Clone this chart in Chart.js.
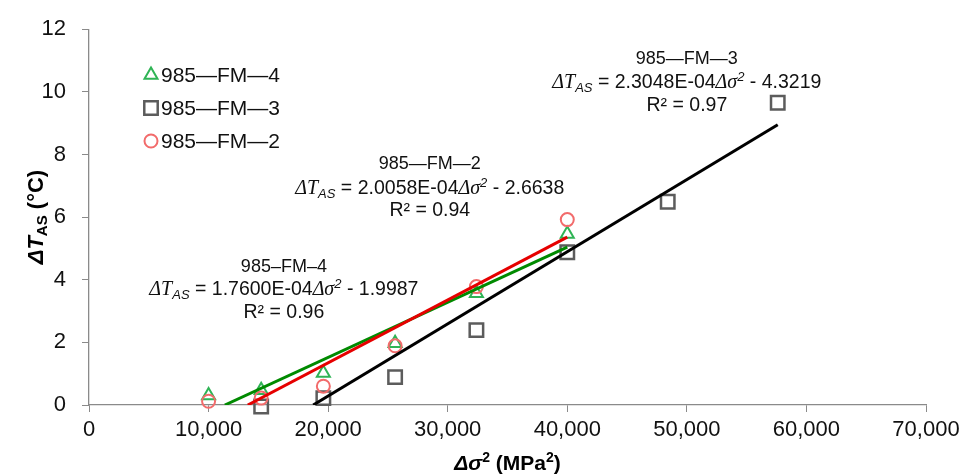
<!DOCTYPE html>
<html><head><meta charset="utf-8">
<style>html,body{margin:0;padding:0;background:#fff}#wrap{width:967px;height:474px;position:relative}</style>
<script src="https://cdn.jsdelivr.net/npm/chart.js@4.4.1/dist/chart.umd.min.js"></script>
</head><body><div id="wrap"><canvas id="c" width="967" height="474"></canvas></div>
<script>
// ---- data ----
const stressSq = [10000, 14400, 19600, 25600, 32400, 40000];
const fm4Values = [0.30, 0.47, 1.02, 1.97, 3.57, 5.46];
const fm2Values = [0.12, 0.22, 0.60, 1.89, 3.78, 5.92];
const fm3Stress = [14400, 19600, 25600, 32400, 40000, 48400, 57600];
const fm3Values = [-0.05, 0.22, 0.89, 2.39, 4.88, 6.49, 9.65];
const fm4TrendX = [11360, 40000];
const fm4TrendY = [0, 5.04];
const fm2TrendX = [13280, 40000];
const fm2TrendY = [0, 5.36];
const fm3TrendX = [18750, 57600];
const fm3TrendY = [0, 8.95];
const seriesNames = ['985\u2014FM\u20144', '985\u2014FM\u20143', '985\u2014FM\u20142'];
const xTickValues = [0, 10000, 20000, 30000, 40000, 50000, 60000, 70000];
const xTickLabels = ['0', '10,000', '20,000', '30,000', '40,000', '50,000', '60,000', '70,000'];
const yTickLabels = ['0', '2', '4', '6', '8', '10', '12'];
const fitTitles = ['985\u2013FM\u20134', '985\u2014FM\u20142', '985\u2014FM\u20143'];
const fitSlopes = ['1.7600E-04', '2.0058E-04', '2.3048E-04'];
const fitIntercepts = ['1.9987', '2.6638', '4.3219'];
const fitR2 = ['0.96', '0.94', '0.97'];

const pts = (xs, ys) => xs.map((x, i) => ({x: x, y: ys[i]}));

const SANS = '"Liberation Sans", Arial, sans-serif';
const SERIF = '"Liberation Serif", "Times New Roman", serif';
const GREEN_M = '#2fb455', RED_M = '#f26b6b', GRAY_M = '#5c5c5c';

// annotation anchors (data coordinates of centre of each block)
const annotAnchors = [
  {x: 16300, y: [4.47, 3.72, 2.99]},
  {x: 28500, y: [7.75, 6.96, 6.24]},
  {x: 50000, y: [11.09, 10.33, 9.6]}
];

function drawRich(ctx, segs, cx, base) {
  let total = 0;
  const ws = segs.map(s => { ctx.font = s[1]; const w = ctx.measureText(s[0]).width; total += w; return w; });
  let x = cx - total / 2;
  ctx.textAlign = 'left'; ctx.textBaseline = 'alphabetic';
  segs.forEach((s, i) => { ctx.font = s[1]; ctx.fillText(s[0], x, base + (s[2] || 0)); x += ws[i]; });
}

function marker(ctx, style, x, y, r, color, lw) {
  ctx.save();
  ctx.strokeStyle = color; ctx.lineWidth = lw; ctx.fillStyle = 'rgba(255,255,255,0)';
  if (Chart.helpers && Chart.helpers.drawPoint) {
    Chart.helpers.drawPoint(ctx, {pointStyle: style, rotation: 0, radius: r, borderWidth: lw}, x, y);
  }
  ctx.restore();
}

const overlay = {
  id: 'overlay',
  afterDraw(chart) {
    const ctx = chart.ctx, xs = chart.scales.x, ys = chart.scales.y;
    ctx.save();
    ctx.fillStyle = '#111';
    // fit annotations
    annotAnchors.forEach((a, i) => {
      const cx = xs.getPixelForValue(a.x);
      const b = a.y.map(v => ys.getPixelForValue(v) + 6.5);
      drawRich(ctx, [[fitTitles[i], '18px ' + SANS]], cx, b[0]);
      drawRich(ctx, [
        ['\u0394T', 'italic 20px ' + SERIF],
        ['AS', 'italic 13px ' + SANS, 4],
        [' = ' + fitSlopes[i], '19.5px ' + SANS],
        ['\u0394\u03c3', 'italic 20px ' + SERIF],
        ['2', 'italic 13px ' + SANS, -7],
        [' - ' + fitIntercepts[i], '19.5px ' + SANS]
      ], cx, b[1]);
      drawRich(ctx, [['R\u00b2 = ' + fitR2[i], '19.5px ' + SANS]], cx, b[2]);
    });
    // axis titles
    const xc = (chart.chartArea.left + chart.chartArea.right) / 2;
    ctx.fillStyle = '#000';
    drawRich(ctx, [
      ['\u0394\u03c3', 'bold italic 21px ' + SANS],
      ['2', 'bold 14px ' + SANS, -8],
      [' (MPa', 'bold 21px ' + SANS],
      ['2', 'bold 14px ' + SANS, -8],
      [')', 'bold 21px ' + SANS]
    ], xc, 470);
    ctx.save();
    ctx.translate(43, (chart.chartArea.top + chart.chartArea.bottom) / 2);
    ctx.rotate(-Math.PI / 2);
    drawRich(ctx, [
      ['\u0394T', 'bold italic 22px ' + SANS],
      ['AS', 'bold 15px ' + SANS, 4],
      [' (\u00b0C)', 'bold 22px ' + SANS]
    ], 0, 0);
    ctx.restore();
    // legend
    const ds = chart.data.datasets;
    const lx = 151, ly = [75, 108, 141];
    [0, 1, 2].forEach(i => {
      const d = ds[i];
      marker(ctx, d.pointStyle, lx, ly[i], d.pointRadius, d.borderColor, d.pointBorderWidth);
      ctx.fillStyle = '#111';
      ctx.font = '21px ' + SANS;
      ctx.textAlign = 'left'; ctx.textBaseline = 'middle';
      ctx.fillText(d.label, 161, ly[i] + 1);
    });
    ctx.restore();
  }
};

new Chart(document.getElementById('c'), {
  type: 'scatter',
  data: {
    datasets: [
      {label: seriesNames[0], data: pts(stressSq, fm4Values), pointStyle: 'triangle', pointRadius: 7.5,
       borderColor: GREEN_M, backgroundColor: 'rgba(0,0,0,0)', pointBorderWidth: 2, order: 5, clip: false},
      {label: seriesNames[1], data: pts(fm3Stress, fm3Values), pointStyle: 'rect', pointRadius: 9.5,
       borderColor: GRAY_M, backgroundColor: 'rgba(0,0,0,0)', pointBorderWidth: 2.5, order: 6, clip: false},
      {label: seriesNames[2], data: pts(stressSq, fm2Values), pointStyle: 'circle', pointRadius: 6.5,
       borderColor: RED_M, backgroundColor: 'rgba(0,0,0,0)', pointBorderWidth: 2, order: 4, clip: false},
      {label: 'fit4', data: pts(fm4TrendX, fm4TrendY), showLine: true, pointRadius: 0, borderColor: '#008a00', borderWidth: 3, order: 2},
      {label: 'fit2', data: pts(fm2TrendX, fm2TrendY), showLine: true, pointRadius: 0, borderColor: '#e60000', borderWidth: 3, order: 1},
      {label: 'fit3', data: pts(fm3TrendX, fm3TrendY), showLine: true, pointRadius: 0, borderColor: '#000000', borderWidth: 3, order: 3}
    ]
  },
  options: {
    responsive: false, animation: false, devicePixelRatio: 1,
    layout: {padding: {left: 0, top: 24, right: 41, bottom: 0}},
    plugins: {legend: {display: false}, tooltip: {enabled: false}},
    scales: {
      x: {
        type: 'linear', min: 0, max: 70000,
        afterBuildTicks: s => { s.ticks = xTickValues.map(v => ({value: v})); },
        afterFit: s => { s.height = 69; },
        ticks: {callback: v => xTickLabels[xTickValues.indexOf(v)], font: {family: SANS, size: 22}, color: '#111', padding: 5, maxRotation: 0, autoSkip: false},
        grid: {drawOnChartArea: false, drawTicks: true, tickLength: 7, color: '#8a8a8a', lineWidth: 1},
        border: {color: '#8a8a8a', width: 1.3}
      },
      y: {
        type: 'linear', min: 0, max: 12,
        afterBuildTicks: s => { s.ticks = yTickLabels.map(t => ({value: Number(t)})); },
        afterFit: s => { s.width = 89; },
        ticks: {callback: v => yTickLabels[yTickLabels.indexOf(String(v))], font: {family: SANS, size: 22}, color: '#111', padding: 16},
        grid: {drawOnChartArea: false, drawTicks: true, tickLength: 7, color: '#8a8a8a', lineWidth: 1},
        border: {color: '#8a8a8a', width: 1.3}
      }
    }
  },
  plugins: [overlay]
});
</script></body></html>
